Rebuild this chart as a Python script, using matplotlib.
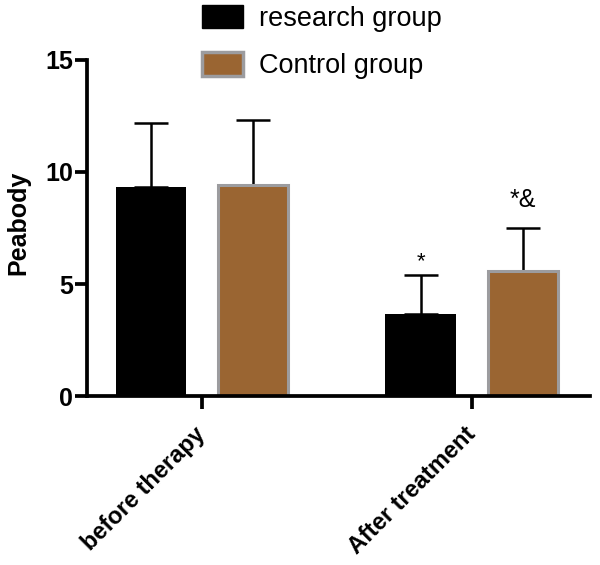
import numpy as np
import matplotlib
matplotlib.use("Agg")
import matplotlib.pyplot as plt
from matplotlib.patches import Patch

# Data
groups = ["before therapy", "After treatment"]
research_mean = [9.35, 3.68]
research_err = [2.83, 1.72]
control_mean = [9.4, 5.6]
control_err = [2.93, 1.9]
series_labels = ["research group", "Control group"]
marks = ["*", "*&"]  # significance marks above the after-treatment bars

plt.rcParams["font.family"] = ["Liberation Sans", "DejaVu Sans"]

brown = "#9A6532"
grey_edge = "#9c9c9f"

fig = plt.figure(figsize=(6.0, 5.65), dpi=100)
ax = fig.add_axes([0.145, 0.299, 0.838, 0.595])

x = np.arange(len(groups))
offset = 0.19
width = 0.26

ax.bar(x - offset, research_mean, width=width, color="black", edgecolor="black",
       linewidth=0, zorder=2)
ax.bar(x + offset, control_mean, width=width, color=brown, edgecolor=grey_edge,
       linewidth=2.2, zorder=2)

# upper error bars only, drawn behind the bars so the lower cap is hidden
ax.errorbar(x - offset, research_mean, yerr=[np.zeros(2), research_err], fmt="none",
            ecolor="black", elinewidth=1.8, capsize=12.5, capthick=1.8, zorder=1)
ax.errorbar(x + offset, control_mean, yerr=[np.zeros(2), control_err], fmt="none",
            ecolor="black", elinewidth=1.8, capsize=12.5, capthick=1.8, zorder=1)

# significance marks
ax.text(x[1] - offset, research_mean[1] + research_err[1] + 0.6, marks[0],
        ha="center", va="center", fontsize=16)
ax.text(x[1] + offset, control_mean[1] + control_err[1] + 1.25, marks[1],
        ha="center", va="center", fontsize=18)

ax.set_xlim(-0.426, 1.437)
ax.set_ylim(0, 15)
ax.set_yticks([0, 5, 10, 15])
ax.set_xticks(x)
ax.set_xticklabels(groups, rotation=45, ha="right", va="center", rotation_mode="anchor",
                   fontsize=17, fontweight="bold")
for lab in ax.get_yticklabels():
    lab.set_fontsize(18)
    lab.set_fontweight("bold")
ax.set_ylabel("Peabody", fontsize=18, fontweight="bold")
ax.yaxis.set_label_coords(-0.112, 0.515)

for side in ["top", "right"]:
    ax.spines[side].set_visible(False)
for side in ["left", "bottom"]:
    ax.spines[side].set_linewidth(2.7)
ax.tick_params(axis="both", width=2.7, length=9)
ax.tick_params(axis="y", pad=1)
ax.tick_params(axis="x", pad=16)

handles = [Patch(facecolor="black", edgecolor="black"),
           Patch(facecolor=brown, edgecolor=grey_edge, linewidth=2.5)]
fig.legend(handles, series_labels, loc="upper left", bbox_to_anchor=(202 / 600, 1 - 5 / 565),
           frameon=False, fontsize=19.5, handlelength=1.5, handleheight=0.95,
           handletextpad=0.6, labelspacing=0.75, borderpad=0, borderaxespad=0)

fig.savefig("out.png", dpi=100)
